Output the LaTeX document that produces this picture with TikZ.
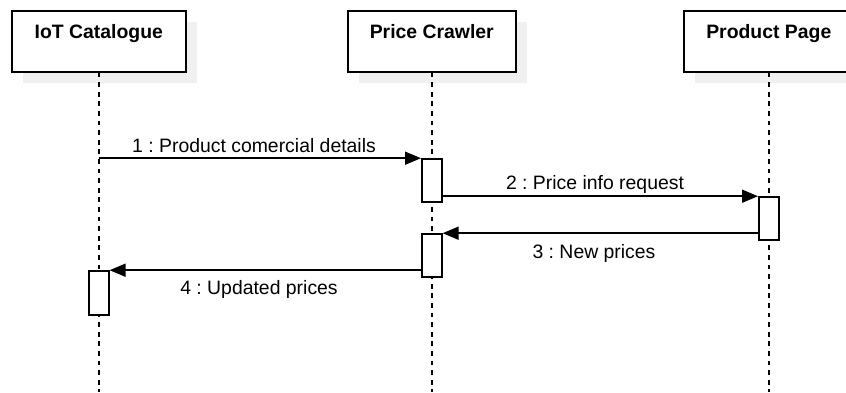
\documentclass[tikz,border=0pt]{standalone}
\usepackage{fontspec}
\setmainfont{Liberation Sans}
\usetikzlibrary{arrows.meta,shadows}
\frenchspacing
\begin{document}
\begin{tikzpicture}[x=1pt,y=-1pt,
  every node/.style={font=\fontsize{19.4}{23}\selectfont},
  head/.style={draw=black,line width=1.6pt,fill=white,rectangle,inner sep=0pt,
    minimum height=61pt,anchor=north west,
    drop shadow={shadow xshift=11pt,shadow yshift=-11pt,fill=black!6,opacity=1}},
  title/.style={anchor=base,inner sep=0pt,font=\bfseries\fontsize{19.4}{23}\selectfont},
  lifeline/.style={line width=1.6pt,dash pattern=on 4.8pt off 4.8pt},
  actbox/.style={draw=black,line width=1.6pt,fill=white,rectangle,inner sep=0pt,
    minimum width=20pt,minimum height=43pt},
  msg/.style={line width=1.6pt,-{Triangle[length=16pt,width=13pt]}},
  lbl/.style={anchor=base,inner sep=0pt}]
\useasboundingbox (0,0) rectangle (846,392);
% headers
\node[head,minimum width=174pt] (iot) at (11,10) {};
\node[head,minimum width=168pt] (crawler) at (347,10) {};
\node[head,minimum width=170pt] (page) at (683,10) {};
\node[title] (iott) at (iot.north |- 0,38) {IoT Catalogue};
\node[title] (crawlert) at (crawler.north |- 0,38) {Price Crawler};
\node[title] (paget) at (page.north |- 0,38) {Product Page};
% lifeline ends
\coordinate (iotend) at (iot.south |- 0,392);
\coordinate (crawlerend) at (crawler.south |- 0,392);
\coordinate (pageend) at (page.south |- 0,392);
\draw[lifeline] (iot.south) -- (iotend);
\draw[lifeline] (crawler.south) -- (crawlerend);
\draw[lifeline] (page.south) -- (pageend);
% activations
\node[actbox] (act1) at (crawler.south |- 0,180.5) {};
\node[actbox] (act2) at (page.south |- 0,218.5) {};
\node[actbox] (act3) at (crawler.south |- 0,255.5) {};
\node[actbox,minimum height=44pt] (act4) at (iot.south |- 0,293) {};
% messages
\draw[msg] (iot.south |- act1.north) -- (act1.north west);
\draw[msg] (act1.east |- act2.north) -- (act2.north west);
\draw[msg] (act2.west |- act3.north) -- (act3.north east);
\draw[msg] (act3.west |- act4.north) -- (act4.north east);
% labels
\node[lbl] (l1) at (254,152) {1 : Product comercial details};
\node[lbl] (l2) at (595,189) {2 : Price info request};
\node[lbl] (l3) at (594,258) {3 : New prices};
\node[lbl] (l4) at (259,294) {4 : Updated prices};
\end{tikzpicture}
\end{document}
